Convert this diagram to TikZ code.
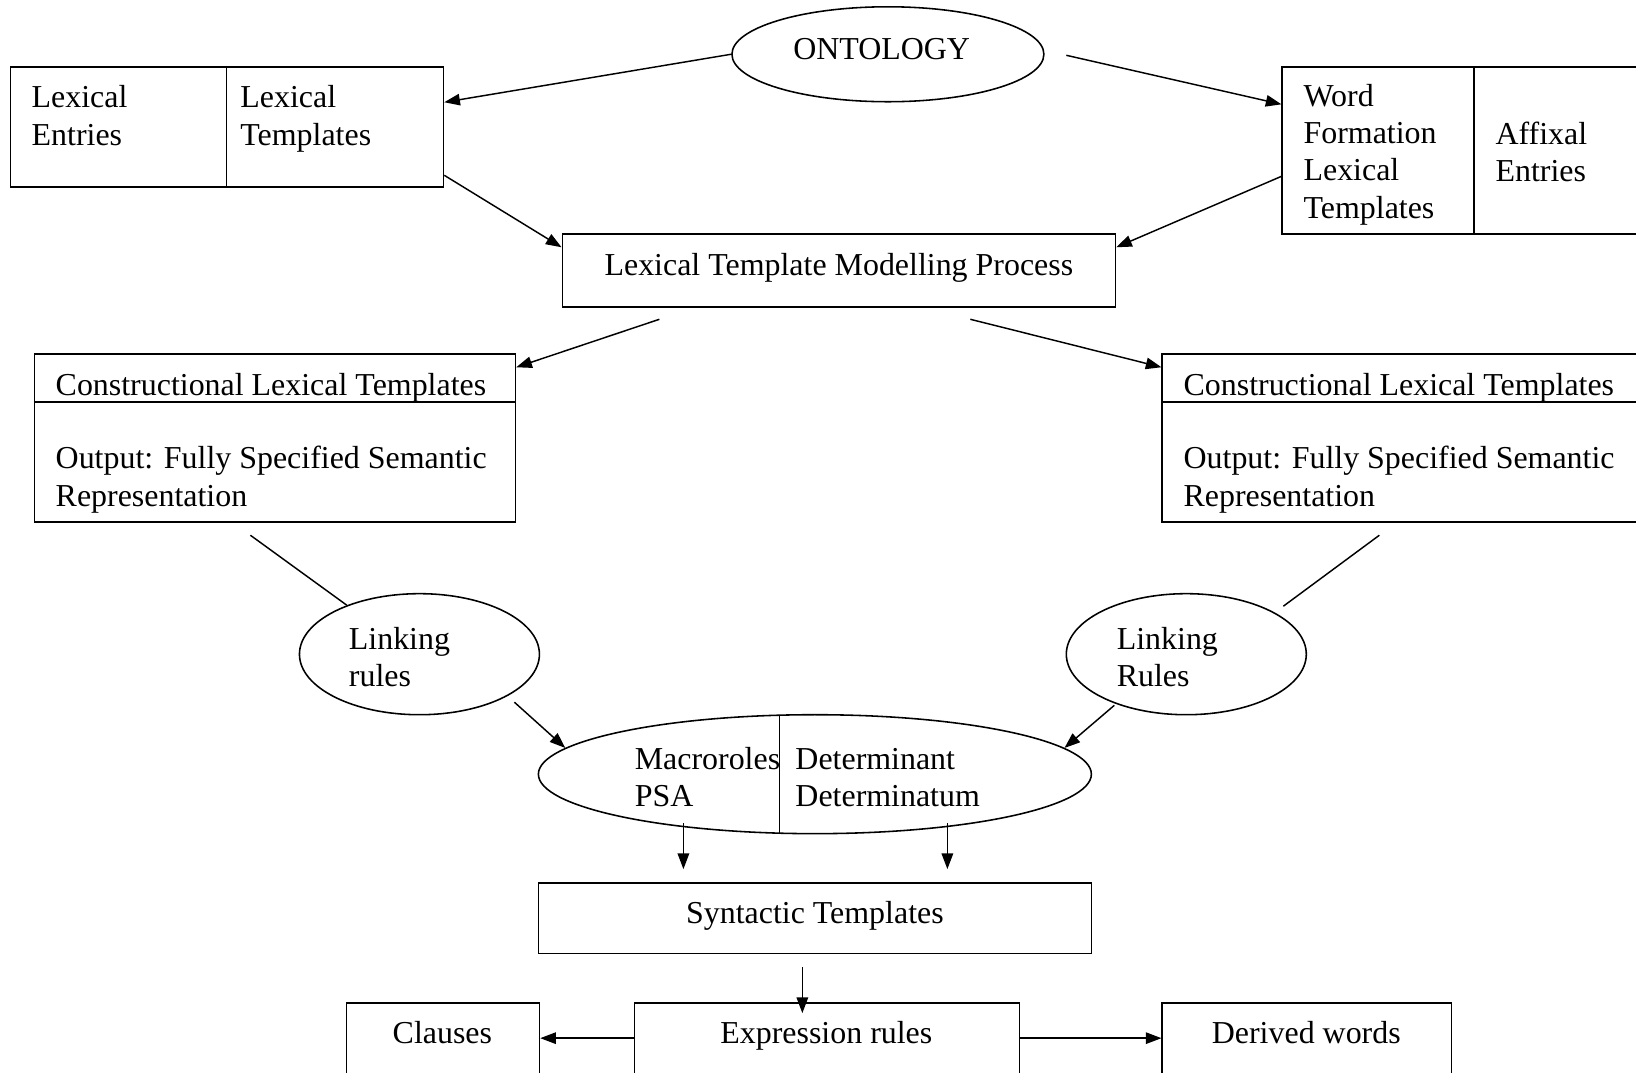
\documentclass[tikz,border=0pt]{standalone}
\usepackage{fontspec}
\setmainfont{Liberation Serif}
\usetikzlibrary{arrows.meta,shapes.geometric,fit,calc}
\begin{document}
\begin{tikzpicture}[x=0.5pt,y=-0.5pt,
  font=\fontsize{15.3}{17.8}\selectfont,
  box/.style={draw, line width=0.8pt, inner sep=0pt},
  oval/.style={draw, ellipse, line width=0.75pt, inner sep=0pt},
  txt/.style={inner sep=0pt, align=left, anchor=base west},
  ctxt/.style={inner sep=0pt, anchor=base},
  conn/.style={line width=0.7pt},
  arr/.style={conn, -{Triangle[length=7.5pt,width=5.5pt]}},
]
\useasboundingbox (0,0) rectangle (1568,1028);
\clip (0,0) rectangle (1568,1028);

% nodes
\node[oval, minimum width=149.5pt, minimum height=45.5pt] (ont) at (851,52) {};
\node[ctxt] (tont) at (845,57) {ONTOLOGY};

\node[box, fit={(10,64) (425,179)}] (lex) {};
\node[box, fit={(1229,64) (1590,224)}] (wf) {};
\node[box, fit={(539,224) (1069,294)}] (ltmp) {};
\node[box, fit={(33,339) (494,500)}] (clta) {};
\node[box, fit={(1114,339) (1590,500)}] (cltb) {};
\node[oval, minimum width=115pt, minimum height=58pt] (linka) at (402,627) {};
\node[oval, minimum width=115pt, minimum height=58pt] (linkb) at (1137,627) {};
\node[oval, minimum width=265pt, minimum height=57pt] (macro) at (781,742) {};
\node[box, fit={(516,846) (1046,914)}] (syn) {};
\node[box, fit={(332,961) (517,1045)}] (cla) {};
\node[box, fit={(608,961) (977,1045)}] (expr) {};
\node[box, fit={(1114,961) (1391,1045)}] (der) {};

% dividers
\draw[line width=0.8pt] (lex.north -| 217,0) -- (lex.south -| 217,0);
\draw[line width=0.8pt] (wf.north -| 1413,0) -- (wf.south -| 1413,0);
\draw[line width=0.8pt] (clta.west |- 0,385) -- (clta.east |- 0,385);
\draw[line width=0.8pt] (cltb.west |- 0,385) -- (cltb.east |- 0,385);
\draw[conn] (747,686) -- (747,799);

% texts (anchored at the baseline of the last line)
\node[txt] (t1) at (30,139) {Lexical\\Entries};
\node[txt] (t2) at (230,139) {Lexical\\Templates};
\node[txt] (t3) at (1249,209) {Word\\Formation\\Lexical\\Templates};
\node[txt] (t4) at (1433,174) {Affixal\\Entries};
\node[ctxt] (t5) at (804,264) {Lexical Template Modelling Process};
\node[txt] (t6) at (53,379) {Constructional Lexical Templates};
\node[txt] (t7) at (53,485) {Output: Fully Specified Semantic\\Representation};
\node[txt] (t8) at (1134,379) {Constructional Lexical Templates};
\node[txt] (t9) at (1134,485) {Output: Fully Specified Semantic\\Representation};
\node[txt] (t10) at (334,658) {Linking\\rules};
\node[txt] (t11) at (1070,658) {Linking\\Rules};
\node[txt] (t12) at (608,773) {Macroroles\\PSA};
\node[txt] (t13) at (762,773) {Determinant\\Determinatum};
\node[ctxt] (t14) at (781,885) {Syntactic Templates};
\node[ctxt] (t15) at (424,1000) {Clauses};
\node[ctxt] (t16) at (792,1000) {Expression rules};
\node[ctxt] (t17) at (1252,1000) {Derived words};

% free ends
\coordinate (c2) at (1022,53);
\coordinate (c5) at (632,306);
\coordinate (c6) at (930,306);
\coordinate (c7) at (240,513);
\coordinate (c8) at (1322,513);
\coordinate (c8b) at (1230,581);
\coordinate (c9) at (493,673);
\coordinate (c10) at (1068,676);
\coordinate (c11a) at (655,789);
\coordinate (c11b) at (655,833);
\coordinate (c12a) at (908,789);
\coordinate (c12b) at (908,833);
\coordinate (c13a) at (769,927);
\coordinate (c13b) at (769,971);

% connectors
\draw[arr] (ont.west) -- (lex.east |- 0,98);
\draw[arr] (c2) -- (wf.west |- 0,100);
\draw[arr] (lex.east |- 0,168) -- (ltmp.west |- 0,237);
\draw[arr] (wf.west |- 0,169) -- (ltmp.east |- 0,237);
\draw[arr] (c5) -- (clta.east |- 0,352);
\draw[arr] (c6) -- (cltb.west |- 0,352);
\draw[conn] (c7) -- (linka.146);
\draw[conn] (c8) -- (c8b);
\draw[arr] (c9) -- (macro.174);
\draw[arr] (c10) -- (macro.6);
\draw[arr] (c11a) -- (c11b);
\draw[arr] (c12a) -- (c12b);
\draw[arr] (c13a) -- (c13b);
\draw[arr] (expr.west |- 0,995) -- (cla.east |- 0,995);
\draw[arr] (expr.east |- 0,995) -- (der.west |- 0,995);
\end{tikzpicture}
\end{document}
